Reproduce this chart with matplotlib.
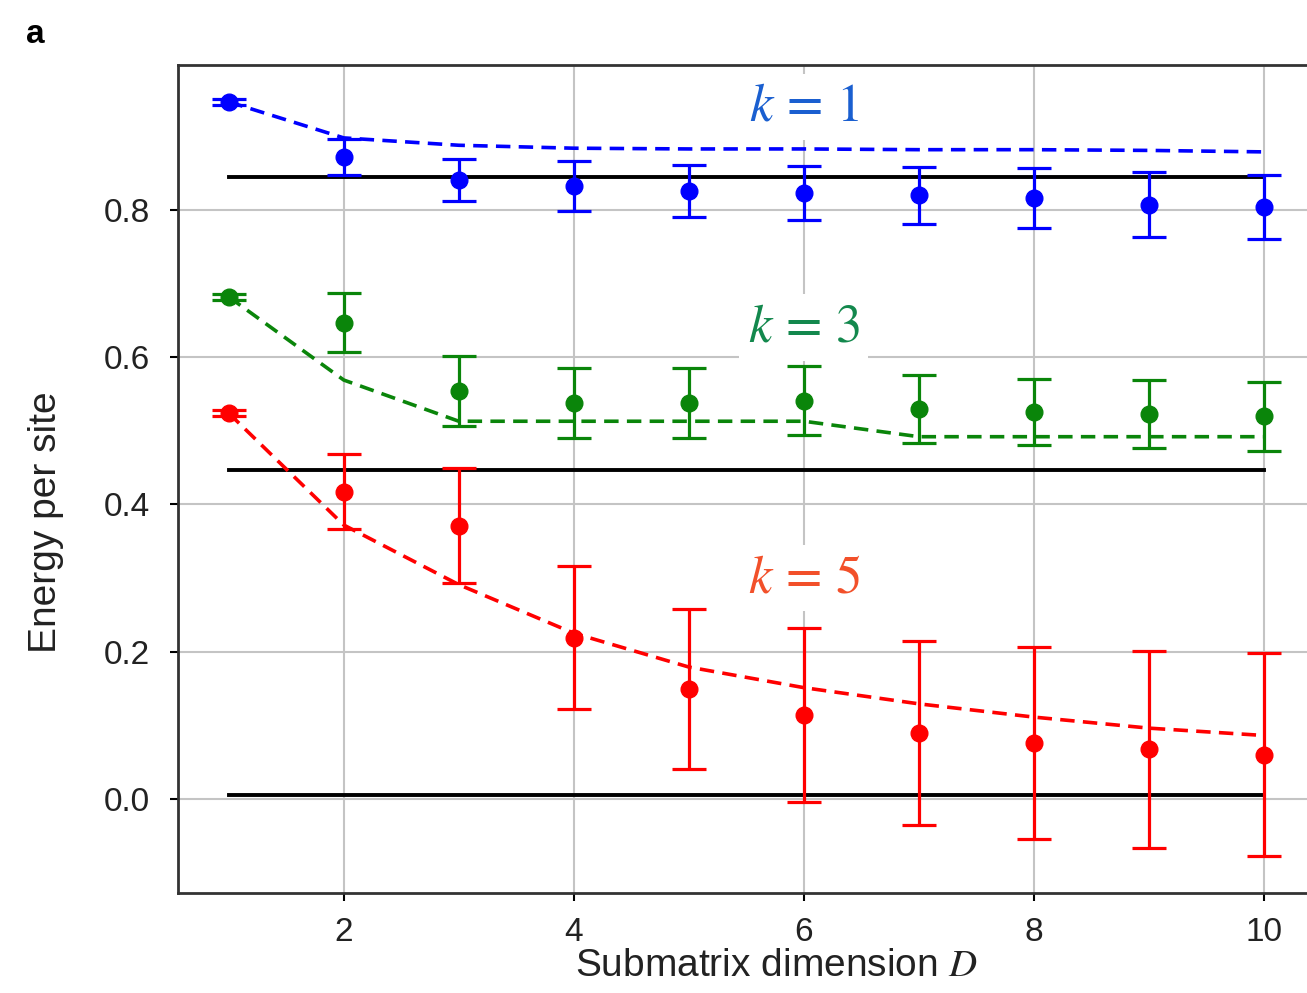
# -*- coding:utf-8 -*-
# Energy per site vs submatrix dimension D, for k = 1, 3, 5
import matplotlib.pyplot as plt
import numpy as np

# 数据
D = np.arange(1, 11)

# k = 1
e1 = [0.947, 0.872, 0.841, 0.833, 0.826, 0.823, 0.820, 0.816, 0.807, 0.804]
err1 = [0.004, 0.025, 0.029, 0.034, 0.035, 0.037, 0.039, 0.041, 0.044, 0.044]
fit1 = [0.947, 0.898, 0.888, 0.884, 0.883, 0.883, 0.882, 0.882, 0.881, 0.879]
exact1 = 0.845

# k = 3
e3 = [0.682, 0.647, 0.554, 0.538, 0.538, 0.541, 0.530, 0.526, 0.523, 0.520]
err3 = [0.004, 0.040, 0.048, 0.048, 0.048, 0.047, 0.046, 0.045, 0.046, 0.047]
fit3 = [0.682, 0.569, 0.513, 0.513, 0.513, 0.513, 0.492, 0.492, 0.492, 0.492]
exact3 = 0.447

# k = 5
e5 = [0.524, 0.417, 0.371, 0.219, 0.149, 0.114, 0.090, 0.076, 0.067, 0.060]
err5 = [0.004, 0.051, 0.078, 0.097, 0.109, 0.118, 0.125, 0.130, 0.134, 0.138]
fit5 = [0.524, 0.372, 0.291, 0.225, 0.179, 0.151, 0.129, 0.111, 0.096, 0.086]
exact5 = 0.005

plt.rcParams['font.family'] = ['Liberation Sans', 'DejaVu Sans']
plt.rcParams['mathtext.fontset'] = 'stix'

fig = plt.figure(figsize=(13.07, 9.93), dpi=100)
# 坐标轴右侧在原图中被裁掉，所以宽度超出画布
ax = fig.add_axes([0.136, 0.1007, 0.9166, 0.8338])

series = [
    (e1, err1, fit1, exact1, '#0000ff'),
    (e3, err3, fit3, exact3, '#0a850a'),
    (e5, err5, fit5, exact5, '#ff0000'),
]

for e, err, fit, exact, c in series:
    ax.plot([D[0], D[-1]], [exact, exact], color='black', lw=2.8, zorder=2)
    ax.plot(D, fit, '--', color=c, lw=2.6, dashes=(4, 2.3), zorder=3)
    ax.errorbar(D, e, yerr=err, fmt='o', color=c, ms=12, elinewidth=2.3,
                capsize=12, capthick=2.3, zorder=4)

# 文字标注
ax.text(6.0, 0.94, r'$k\,=\,1$', color='#1a5fd0', fontsize=38, ha='center', va='center',
        bbox=dict(facecolor='white', edgecolor='none', pad=6), zorder=5)
ax.text(6.0, 0.64, r'$k\,=\,3$', color='#13884d', fontsize=38, ha='center', va='center',
        bbox=dict(facecolor='white', edgecolor='none', pad=6), zorder=5)
ax.text(6.0, 0.30, r'$k\,=\,5$', color='#f2502a', fontsize=38, ha='center', va='center',
        bbox=dict(facecolor='white', edgecolor='none', pad=6), zorder=5)

ax.set_xlim(0.557, 10.97)
ax.set_ylim(-0.128, 0.997)
ax.set_xticks([2, 4, 6, 8, 10])
ax.set_yticks([0.0, 0.2, 0.4, 0.6, 0.8])
ax.set_yticklabels(['0.0', '0.2', '0.4', '0.6', '0.8'])
ax.grid(True, color='#c4c4c4', lw=1.5, zorder=0)
ax.set_axisbelow(True)

ax.tick_params(labelsize=24, labelcolor='#222222', length=6, width=1.5)
ax.tick_params(axis='y', pad=14)
ax.tick_params(axis='x', pad=11)
for s in ['left', 'bottom', 'top']:
    ax.spines[s].set_linewidth(2.0)
    ax.spines[s].set_color('#333333')
ax.spines['right'].set_visible(False)

ax.set_xlabel('Submatrix dimension $D$', fontsize=28, color='#222222', labelpad=0)
ax.set_ylabel('Energy per site', fontsize=28, color='#222222')
ax.yaxis.set_label_coords(-0.095, 0.448)

fig.text(0.020, 0.965, 'a', fontsize=24, fontweight='bold', va='center')

fig.savefig('out.png', dpi=100)
